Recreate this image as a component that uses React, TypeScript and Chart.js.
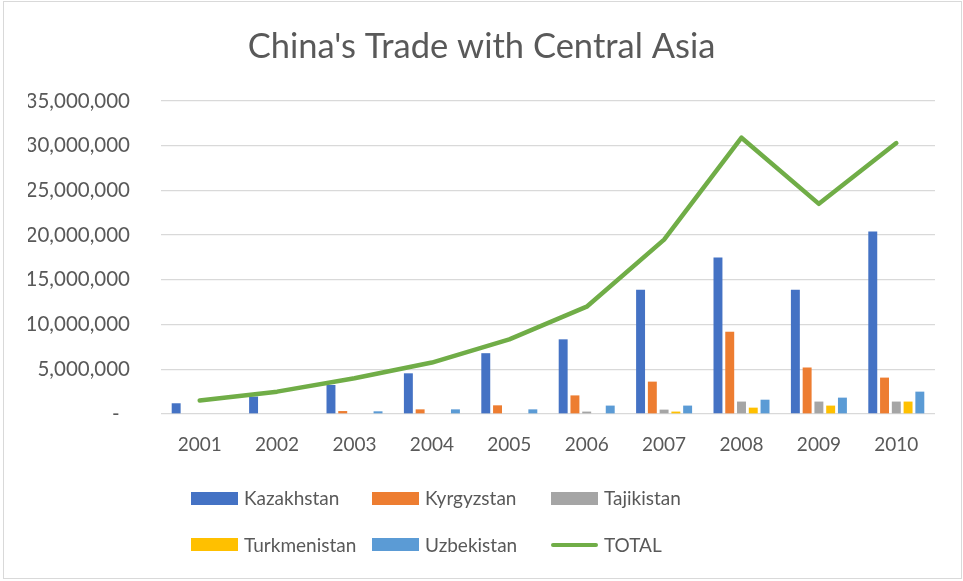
import React, { useEffect, useRef } from "react";
import { Chart, registerables } from "chart.js";

Chart.register(...registerables);

const years = ["2001", "2002", "2003", "2004", "2005", "2006", "2007", "2008", "2009", "2010"];
const kazakhstan = [1200000, 1950000, 3250000, 4550000, 6800000, 8350000, 13900000, 17500000, 13900000, 20400000];
const kyrgyzstan = [0, 0, 330000, 520000, 970000, 2080000, 3620000, 9200000, 5200000, 4070000];
const tajikistan = [0, 0, 0, 0, 0, 270000, 490000, 1390000, 1390000, 1390000];
const turkmenistan = [0, 0, 0, 0, 0, 0, 270000, 710000, 940000, 1390000];
const uzbekistan = [0, 0, 300000, 520000, 520000, 940000, 940000, 1600000, 1830000, 2500000];
const total = [1500000, 2500000, 4000000, 5750000, 8350000, 12000000, 19500000, 30900000, 23500000, 30300000];

const seriesNames = ["Kazakhstan", "Kyrgyzstan", "Tajikistan", "Turkmenistan", "Uzbekistan", "TOTAL"];
const seriesColors = ["#4472C4", "#ED7D31", "#A5A5A5", "#FFC000", "#5B9BD5", "#70AD47"];

const FONT = "Lato, 'Noto Sans', sans-serif";
const TEXT = "#595959";

export default function App() {
  const ref = useRef<HTMLCanvasElement | null>(null);

  useEffect(() => {
    document.body.style.margin = "0";
    const canvas = ref.current;
    if (!canvas) return;
    const barSeries = [kazakhstan, kyrgyzstan, tajikistan, turkmenistan, uzbekistan];
    const datasets: any[] = barSeries.map((d, i) => ({
      type: "bar",
      label: seriesNames[i],
      data: d,
      backgroundColor: seriesColors[i],
      borderWidth: 0,
      categoryPercentage: 0.76,
      barPercentage: 0.76,
      order: 1,
    }));
    datasets.push({
      type: "line",
      label: seriesNames[5],
      data: total,
      borderColor: seriesColors[5],
      backgroundColor: seriesColors[5],
      borderWidth: 4.5,
      pointRadius: 0,
      tension: 0,
      borderCapStyle: "round",
      borderJoinStyle: "round",
      order: 0,
    });

    const chart = new Chart(canvas, {
      type: "bar",
      data: { labels: years, datasets },
      options: {
        animation: false,
        responsive: false,
        devicePixelRatio: 1,
        layout: { padding: { left: 28, right: 28, top: 0, bottom: 0 } },
        plugins: {
          legend: { display: false },
          tooltip: { enabled: false },
          title: {
            display: true,
            text: "China's Trade with Central Asia",
            color: TEXT,
            font: { family: FONT, size: 34.5, weight: "normal" },
            padding: { top: 26, bottom: 33.6 },
          },
        },
        scales: {
          x: {
            grid: { display: false, drawTicks: false },
            border: { display: false },
            ticks: { color: TEXT, font: { family: FONT, size: 19 }, padding: 19 },
            afterFit: (s: any) => {
              s.height = 167;
            },
          },
          y: {
            min: 0,
            max: 35000000,
            grid: { color: "#d9d9d9", lineWidth: 1.3, drawTicks: false },
            border: { display: false },
            ticks: {
              stepSize: 5000000,
              color: TEXT,
              font: { family: FONT, size: 20.5 },
              padding: 31,
              callback: (v: any) => (Number(v) === 0 ? "-  " : Number(v).toLocaleString("en-US")),
            },
            afterFit: (s: any) => {
              s.width = 133;
            },
          },
        },
      },
    });
    return () => chart.destroy();
  }, []);

  const legendCols = [191, 372, 551];
  const legendRows = [498, 544.5];

  return (
    <div style={{ position: "absolute", left: 0, top: 0, width: 963, height: 581, background: "#fff" }}>
      <canvas ref={ref} width={963} height={581} style={{ position: "absolute", left: 0, top: 0, width: 963, height: 581 }} />
      <div
        style={{
          position: "absolute",
          left: 3,
          top: 1,
          width: 959,
          height: 578,
          boxSizing: "border-box",
          border: "1px solid #d9d9d9",
          pointerEvents: "none",
        }}
      />
      {seriesNames.map((name, i) => {
        const col = i % 3;
        const row = Math.floor(i / 3);
        const x = legendCols[col];
        const y = legendRows[row];
        const isLine = i === 5;
        return (
          <div key={name} style={{ position: "absolute", left: x, top: y - 12, height: 24, display: "flex", alignItems: "center" }}>
            <div
              style={{
                width: 47,
                height: isLine ? 4 : 13,
                background: seriesColors[i],
                borderRadius: isLine ? 2 : 0,
                marginRight: 6,
              }}
            />
            <span style={{ fontFamily: FONT, fontSize: 19, color: TEXT, lineHeight: "24px", whiteSpace: "nowrap" }}>{name}</span>
          </div>
        );
      })}
    </div>
  );
}
